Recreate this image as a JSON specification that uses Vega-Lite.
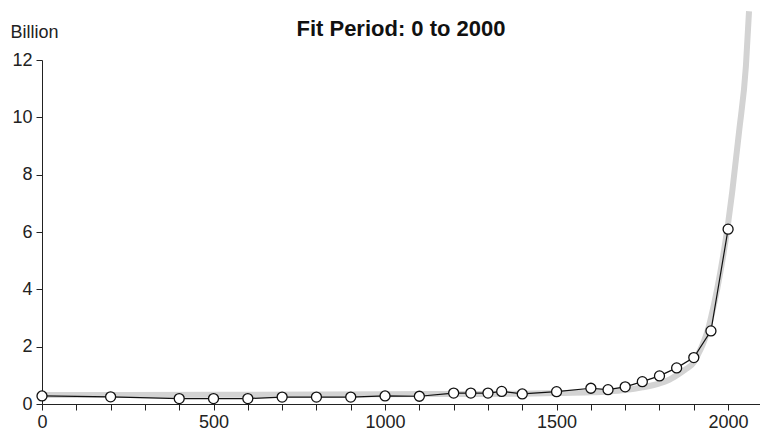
{
  "$schema": "https://vega.github.io/schema/vega-lite/v6.json",
  "autosize": "none",
  "width": 718,
  "height": 344,
  "padding": {"left": 42, "top": 60, "right": 0, "bottom": 31},
  "background": "white",
  "config": {
    "view": {"stroke": null},
    "font": "Liberation Sans",
    "axis": {"grid": false, "domainColor": "#222", "tickColor": "#222", "labelColor": "#222", "labelFont": "Liberation Sans", "labelFontSize": 18, "domainWidth": 1, "tickWidth": 1, "labelOverlap": false, "labelFlush": false},
    "axisX": {"labelOverlap": false}
  },
  "title": {"text": "Fit Period: 0 to 2000", "fontSize": 22, "fontWeight": "bold", "font": "Liberation Sans", "color": "#111", "anchor": "middle", "offset": -42},
  "datasets": {
    "fit": [
      {"year": 0, "pop": 0.31}, {"year": 500, "pop": 0.32}, {"year": 1000, "pop": 0.34},
      {"year": 1200, "pop": 0.35}, {"year": 1400, "pop": 0.36}, {"year": 1500, "pop": 0.38},
      {"year": 1600, "pop": 0.41}, {"year": 1650, "pop": 0.44}, {"year": 1700, "pop": 0.49},
      {"year": 1750, "pop": 0.58}, {"year": 1800, "pop": 0.72}, {"year": 1825, "pop": 0.83},
      {"year": 1850, "pop": 1.0}, {"year": 1875, "pop": 1.2}, {"year": 1900, "pop": 1.45},
      {"year": 1912, "pop": 1.72}, {"year": 1925, "pop": 2.05}, {"year": 1936, "pop": 2.4},
      {"year": 1942, "pop": 2.62}, {"year": 1950, "pop": 3.0}, {"year": 1968, "pop": 4.0},
      {"year": 1986, "pop": 5.2}, {"year": 2000, "pop": 6.3}, {"year": 2012, "pop": 7.4},
      {"year": 2032, "pop": 9.5}, {"year": 2052, "pop": 11.8}, {"year": 2061, "pop": 13.7}
    ],
    "obs": [
      {"year": 0, "pop": 0.28}, {"year": 200, "pop": 0.25}, {"year": 400, "pop": 0.19},
      {"year": 500, "pop": 0.19}, {"year": 600, "pop": 0.19}, {"year": 700, "pop": 0.24},
      {"year": 800, "pop": 0.24}, {"year": 900, "pop": 0.24}, {"year": 1000, "pop": 0.28},
      {"year": 1100, "pop": 0.27}, {"year": 1200, "pop": 0.38}, {"year": 1250, "pop": 0.38},
      {"year": 1300, "pop": 0.38}, {"year": 1340, "pop": 0.44}, {"year": 1400, "pop": 0.35},
      {"year": 1500, "pop": 0.43}, {"year": 1600, "pop": 0.55}, {"year": 1650, "pop": 0.5},
      {"year": 1700, "pop": 0.6}, {"year": 1750, "pop": 0.78}, {"year": 1800, "pop": 0.98},
      {"year": 1850, "pop": 1.26}, {"year": 1900, "pop": 1.62}, {"year": 1950, "pop": 2.55},
      {"year": 2000, "pop": 6.1}
    ]
  },
  "encoding": {
    "x": {"field": "year", "type": "quantitative", "scale": {"domain": [0, 2093], "nice": false},
      "axis": {"title": null, "values": [0,100,200,300,400,500,600,700,800,900,1000,1100,1200,1300,1400,1500,1600,1700,1800,1900,2000],
        "labelExpr": "datum.value % 500 == 0 ? format(datum.value, 'd') : ''", "tickSize": 6, "labelPadding": 3, "labelFlush": false, "labelOverlap": false}},
    "y": {"field": "pop", "type": "quantitative", "scale": {"domain": [0, 12], "nice": false},
      "axis": {"values": [0,2,4,6,8,10,12], "tickSize": 6, "labelPadding": 4, "title": "Billion", "titleAngle": 0, "titleAlign": "left", "titleBaseline": "alphabetic", "titleX": -32, "titleY": -23, "titleFontSize": 18, "titleFontWeight": "normal", "titleFont": "Liberation Sans", "titleColor": "#222"}}
  },
  "layer": [
    {
      "data": {"name": "fit"},
      "mark": {"type": "line", "color": "#d3d3d3", "strokeWidth": 6, "clip": false, "interpolate": "monotone"}
    },
    {
      "data": {"name": "obs"},
      "mark": {"type": "line", "color": "#111", "strokeWidth": 1.2, "clip": false}
    },
    {
      "data": {"name": "obs"},
      "mark": {"type": "point", "shape": "circle", "filled": true, "fill": "white", "stroke": "#111", "strokeWidth": 1.3, "size": 100, "opacity": 1, "clip": false}
    }
  ]
}
